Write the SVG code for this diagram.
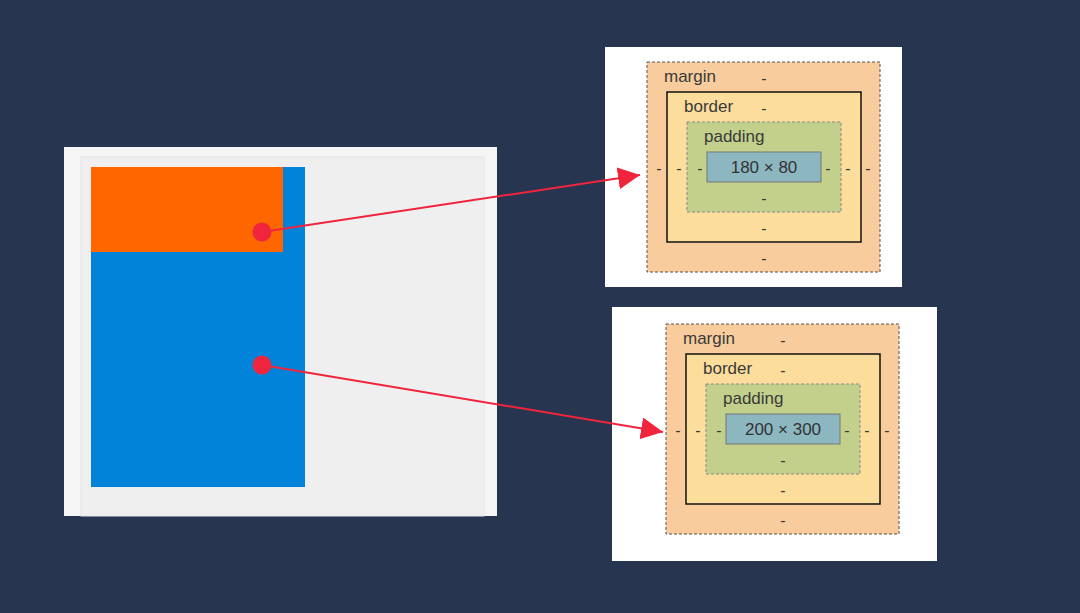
<svg xmlns="http://www.w3.org/2000/svg" width="1080" height="613" viewBox="0 0 1080 613">
<defs>
<style>
.lbl{font-family:"Liberation Sans",Arial,sans-serif;font-size:17px;fill:#3a3a3a}
.dash{font-family:"Liberation Sans",Arial,sans-serif;font-size:16px;fill:#3a3a3a;text-anchor:middle}
.dim{font-family:"Liberation Sans",Arial,sans-serif;font-size:17px;fill:#333;text-anchor:middle}
.margin{fill:#f9cc9d;stroke:#555;stroke-width:1;stroke-dasharray:3,2}
.border{fill:#fddd9b;stroke:#111;stroke-width:1.5}
.padding{fill:#c3d08b;stroke:#888;stroke-width:1;stroke-dasharray:3,2}
.content{fill:#8cb6c0;stroke:#777;stroke-width:1}
.conn{stroke:#f0253d;stroke-width:2;fill:none}
</style>
<marker id="arrow" markerUnits="userSpaceOnUse" markerWidth="22" markerHeight="22" viewBox="0 0 20 20" refX="20" refY="10" orient="auto">
<path d="M0,0 L20,10 L0,20 z" fill="#f0253d"/>
</marker>
<g id="boxmodel-base">
<rect class="margin" x="0" y="0" width="233" height="210"/>
<rect class="border" x="20" y="30" width="194" height="150"/>
<rect class="padding" x="40" y="60" width="154" height="90"/>
<rect class="content" x="60" y="90" width="114" height="30"/>
<text class="lbl" x="17" y="20">margin</text>
<text class="dash" x="117" y="22">-</text>
<text class="lbl" x="37" y="50">border</text>
<text class="dash" x="117" y="52">-</text>
<text class="lbl" x="57" y="80">padding</text>
<text class="dash" x="12" y="112">-</text>
<text class="dash" x="32" y="112">-</text>
<text class="dash" x="53" y="112">-</text>
<text class="dash" x="181" y="112">-</text>
<text class="dash" x="201" y="112">-</text>
<text class="dash" x="221" y="112">-</text>
<text class="dash" x="117" y="142">-</text>
<text class="dash" x="117" y="172">-</text>
<text class="dash" x="117" y="202">-</text>
</g>
</defs>
<rect width="1080" height="613" fill="#283551"/>

<g id="page">
<rect x="64" y="147" width="433" height="369" fill="#f5f5f5"/>
<rect x="81" y="157" width="403" height="359" fill="#efefef" stroke="#e4e4e4" stroke-width="1"/>
</g>
<g id="blue-box">
<rect x="91" y="167" width="214" height="320" fill="#0083d8"/>
</g>
<g id="orange-box">
<rect x="91" y="167" width="192" height="85" fill="#ff6600"/>
</g>

<g id="boxmodel-top">
<rect x="605" y="47" width="297" height="240" fill="#ffffff"/>
<g transform="translate(647,62)">
<use href="#boxmodel-base"/>
<text class="dim" x="117" y="111">180 × 80</text>
</g>
</g>

<g id="boxmodel-bottom">
<rect x="612" y="307" width="325" height="254" fill="#ffffff"/>
<g transform="translate(666,324)">
<use href="#boxmodel-base"/>
<text class="dim" x="117" y="111">200 × 300</text>
</g>
</g>

<g id="connectors">
<line class="conn" x1="262" y1="232" x2="640" y2="175" marker-end="url(#arrow)"/>
<line class="conn" x1="262" y1="365" x2="663" y2="432" marker-end="url(#arrow)"/>
<circle cx="262" cy="232" r="9.5" fill="#f0253d"/>
<circle cx="262" cy="365" r="9.5" fill="#f0253d"/>
</g>
</svg>
